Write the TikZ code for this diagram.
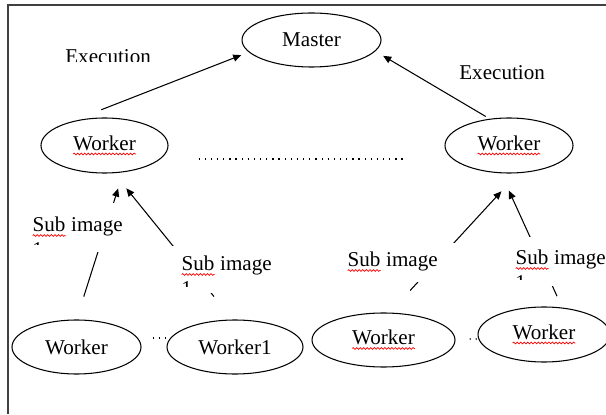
\documentclass[tikz,border=0pt]{standalone}
\usepackage{fontspec}
\setmainfont{Liberation Serif}
\usetikzlibrary{shapes.geometric,arrows.meta,decorations.pathmorphing}
\newcommand\spell[1]{\tikz[baseline=(sp.base)]{%
  \node[shape=rectangle, draw=none, fill=none, inner sep=0pt, outer sep=0pt,
        minimum width=0pt, minimum height=0pt, anchor=base] (sp) {#1};
  \draw[red, line width=0.4pt, decorate,
        decoration={snake, amplitude=0.5pt, segment length=2pt}]
    ([yshift=-2pt]sp.base west) -- ([yshift=-2pt]sp.base east);}}
\begin{document}
\begin{tikzpicture}[
  font=\rmfamily\fontsize{12}{14}\selectfont,
  worker/.style={draw, ellipse, line width=0.6pt, inner sep=0pt, minimum height=1.08cm},
  arr/.style={-{Triangle[length=4.6pt,width=4pt]}, line width=0.6pt},
  dots/.style={line width=0.6pt, dash pattern=on 0.7pt off 2.8pt},
  lbl/.style={inner sep=0pt, align=left, anchor=north west}
]
\useasboundingbox (0,0) rectangle (12.12,8.28);
%frame
\draw[line width=0.9pt, black!75] (12.12,8.18) -- (0.16,8.18) -- (0.16,0);

%Master
\node[worker, minimum width=2.78cm] (master) at (6.23,7.48) {Master};

%Worker (upper row)
\node[worker, minimum width=2.54cm, minimum height=1.1cm] (lw) at (2.09,5.37) {\spell{Worker}};
\node[worker, minimum width=2.56cm, minimum height=1.1cm] (rw) at (10.18,5.37) {\spell{Worker}};
\draw[dots] ([xshift=0.6cm,yshift=-0.27cm]lw.east) -- ([xshift=-0.8cm,yshift=-0.27cm]rw.west);

%Worker (lower row)
\node[worker, minimum width=2.58cm] (w1) at (1.53,1.34) {Worker};
\node[worker, minimum width=2.72cm] (w2) at (4.70,1.34) {Worker1};
\node[worker, minimum width=2.86cm] (w3) at (7.67,1.48) {\spell{Worker}};
\node[worker, minimum width=2.64cm, minimum height=1.1cm] (w4) at (10.88,1.59) {\spell{Worker}};
\draw[dots] ([xshift=0.22cm,yshift=0.18cm]w1.east) -- ([yshift=0.18cm]w2.west);
\draw[dots] ([xshift=0.28cm,yshift=0.02cm]w3.east) -- ([yshift=-0.09cm]w4.west);

%Execution
\node[anchor=base west, inner sep=0pt] (exr) at (9.18,6.68) {Execution};
\begin{scope}
\clip (1.2,7.05) rectangle (3.2,7.4);
\node[anchor=base west, inner sep=0pt] (exl) at (1.30,7.00) {Execution};
\end{scope}

%arrows
\draw[arr, shorten <=0.66cm, shorten >=0.16cm] (lw.145) -- (master.191);
\draw[arr, shorten <=0.09cm, shorten >=0.18cm] (rw.126) -- (master.-10);
\draw[arr, shorten <=0.48cm, shorten >=0.34cm] (w1.north) -- (lw.-55);
\draw[arr, shorten <=0.59cm, shorten >=0.39cm] (w2.95) -- (lw.-71);
\draw[arr, shorten <=0.60cm, shorten >=0.49cm] (w3.77) -- (rw.-72);
\draw[arr, shorten <=0.25cm, shorten >=0.38cm] (w4.56) -- (rw.-106);

%Sub image 1
\fill[white] (0.48,3.24) rectangle (2.48,4.22);
\begin{scope}
\clip (0.48,3.38) rectangle (2.48,4.22);
\node[lbl] (sub1) at (0.64,3.94) {\spell{Sub} image\\1};
\end{scope}

%Sub image 2
\fill[white] (3.44,2.42) rectangle (5.44,3.36);
\begin{scope}
\clip (3.44,2.56) rectangle (5.44,3.36);
\node[lbl] (sub2) at (3.62,3.16) {\spell{Sub} image\\1};
\end{scope}

%Sub image 3
\fill[white] (6.76,2.64) rectangle (9.16,3.42);
\begin{scope}
\clip (6.76,2.78) rectangle (9.16,3.42);
\node[lbl] (sub3) at (6.94,3.24) {\spell{Sub} image\\1};
\end{scope}

%Sub image 4
\fill[white] (10.24,2.56) rectangle (12.24,3.54);
\begin{scope}
\clip (10.24,2.70) rectangle (12.24,3.54);
\node[lbl] (sub4) at (10.30,3.28) {\spell{Sub} image\\1};
\end{scope}
\end{tikzpicture}
\end{document}
